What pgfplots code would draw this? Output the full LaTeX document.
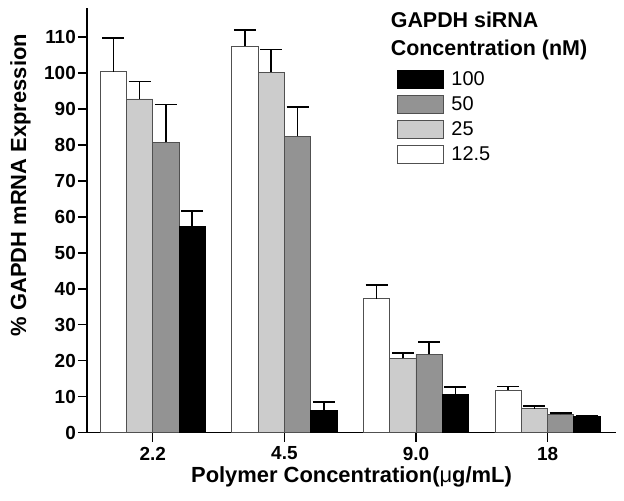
\documentclass[border=0pt]{standalone}
\usepackage{pgfplots}
\pgfplotsset{compat=1.18}
\usepackage{fontspec}
\setmainfont{Liberation Sans}

\definecolor{barlight}{RGB}{204,204,204}
\definecolor{bardark}{RGB}{147,147,147}
\definecolor{baredge}{RGB}{80,80,80}

\begin{document}
\begin{tikzpicture}
\useasboundingbox (-87bp,-68.3bp) rectangle (537bp,432.7bp);
\begin{axis}[
    at={(0bp,0bp)}, anchor=south west,
    scale only axis,
    width=529bp, height=424.7bp,
    xmin=-0.5, xmax=3.52,
    ymin=0, ymax=118.1,
    axis lines*=left,
    axis line style={line width=1.3bp, black},
    ybar=0pt,
    bar width=0.2,
    xtick={0,1,2,3},
    xticklabels={2.2,4.5,9.0,18},
    ytick={0,10,...,110},
    tick align=outside,
    major tick length=9bp,
    tick style={line width=1.3bp, black},
    /pgf/number format/assume math mode=true,
    ticklabel style={font=\bfseries\fontsize{19}{19}\selectfont},
    yticklabel style={inner sep=2bp},
    xticklabel style={inner sep=5bp},
    xlabel={Polymer Concentration({\mdseries μ}g/mL)},
    xlabel style={font=\bfseries\fontsize{22}{22}\selectfont,
      at={(axis description cs:0.5,-0.118)}, anchor=base},
    ylabel={\% GAPDH mRNA Expression},
    ylabel style={font=\bfseries\fontsize{22}{22}\selectfont,
      at={(axis description cs:-0.1153,0.583)}, anchor=base},
    every axis plot/.append style={draw=baredge, line width=0.8bp},
    error bars/y dir=plus,
    error bars/y explicit,
    error bars/error bar style={black, line width=1.6bp},
    error bars/error mark options={rotate=90, black, line width=1.6bp, mark size=11bp},
    legend image code/.code={\draw[#1] (0bp,-9bp) rectangle (46bp,9bp);},
    legend reversed,
    legend cell align=left,
    legend style={draw=none, fill=none, inner sep=0pt, outer sep=0pt,
      at={(axis description cs:0.5854,0.854)}, anchor=north west,
      row sep=6.2bp, column sep=8bp,
      font=\fontsize{20}{20}\selectfont,
      nodes={inner sep=0pt}},
  ]
  % 12.5 nM
  \addplot[fill=white] coordinates {
    (0,100.4) +- (0,9.3)
    (1,107.5) +- (0,4.5)
    (2,37.3)  +- (0,3.7)
    (3,11.8)  +- (0,1.1)};
  % 25 nM
  \addplot[fill=barlight] coordinates {
    (0,92.8)  +- (0,4.9)
    (1,100.2) +- (0,6.4)
    (2,20.7)  +- (0,1.4)
    (3,6.7)   +- (0,0.7)};
  % 50 nM
  \addplot[fill=bardark] coordinates {
    (0,80.7)  +- (0,10.6)
    (1,82.5)  +- (0,8.1)
    (2,21.8)  +- (0,3.4)
    (3,5.1)   +- (0,0.4)};
  % 100 nM
  \addplot[fill=black, draw=black] coordinates {
    (0,57.3)  +- (0,4.3)
    (1,6.3)   +- (0,2.2)
    (2,10.7)  +- (0,2.0)
    (3,4.4)   +- (0,0.3)};
  \legend{12.5,25,50,100}

  \node[anchor=base west, inner sep=0pt, font=\bfseries\fontsize{21.5}{21.5}\selectfont]
    at (axis description cs:0.574,0.953) {GAPDH siRNA};
  \node[anchor=base west, inner sep=0pt, font=\bfseries\fontsize{21.5}{21.5}\selectfont]
    at (axis description cs:0.574,0.888) {Concentration (nM)};
\end{axis}
\end{tikzpicture}
\end{document}
